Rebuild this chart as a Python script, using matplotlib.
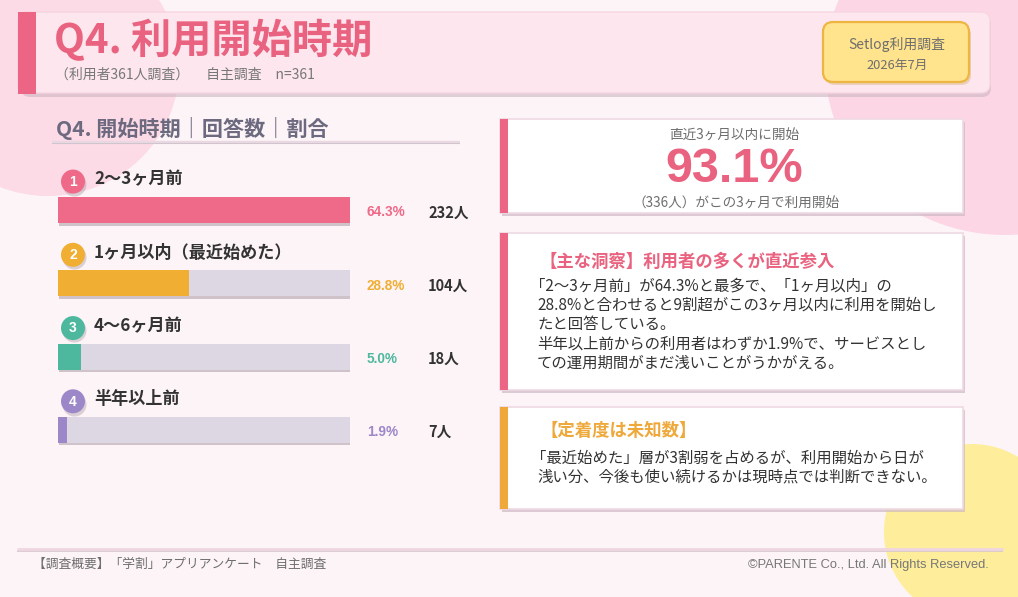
import numpy as np
import matplotlib
matplotlib.use('Agg')
import matplotlib.pyplot as plt
from matplotlib.patches import FancyBboxPatch, Rectangle, Circle, Ellipse
from matplotlib.transforms import blended_transform_factory
import matplotlib.patheffects as pe

JP = ['Noto Sans CJK JP', 'DejaVu Sans']
LAT = ['Liberation Sans', 'DejaVu Sans']
plt.rcParams['font.family'] = JP

# ---------------- data ----------------
categories = ['2～3ヶ月前', '1ヶ月以内（最近始めた）', '4～6ヶ月前', '半年以上前']
counts = [232, 104, 18, 7]
percents = [64.3, 28.8, 5.0, 1.9]
bar_colors = ['#EE6A88', '#F0AE33', '#4DB89E', '#9C87C8']
track_color = '#DCD7E2'

title = 'Q4. 利用開始時期'
subtitle = '（利用者361人調査）　 自主調査　n=361'
badge_lines = ['Setlog利用調査', '2026年7月']
section_title = 'Q4. 開始時期｜回答数｜割合'
stat_label = '直近3ヶ月以内に開始'
stat_value = '93.1%'
stat_note = '（336人）がこの3ヶ月で利用開始'
insight1_title = '【主な洞察】利用者の多くが直近参入'
insight1_lines = ['「2～3ヶ月前」が64.3%と最多で、「1ヶ月以内」の',
                  '28.8%と合わせると9割超がこの3ヶ月以内に利用を開始し',
                  'たと回答している。',
                  '半年以上前からの利用者はわずか1.9%で、サービスとし',
                  'ての運用期間がまだ浅いことがうかがえる。']
insight2_title = '【定着度は未知数】'
insight2_lines = ['「最近始めた」層が3割弱を占めるが、利用開始から日が',
                  '浅い分、今後も使い続けるかは現時点では判断できない。']
footer_left = '【調査概要】「学割」アプリアンケート　自主調査'
footer_right = '©PARENTE Co., Ltd. All Rights Reserved.'

PINK = '#EC6584'
ORANGE = '#EFA83A'
GREY = '#6E6E6E'
DARK = '#333333'

# ---------------- figure ----------------
fig = plt.figure(figsize=(10.18, 5.97), dpi=100)
fig.patch.set_facecolor('#FDF4F7')
ov = fig.add_axes([0, 0, 1, 1])
ov.set_xlim(0, 1018)
ov.set_ylim(597, 0)
ov.axis('off')
ov.set_zorder(0)

# background blobs
ov.add_patch(Ellipse((48, 68), 262, 256, fc='#FCDAE6', ec='none', zorder=0))
ov.add_patch(Ellipse((1005, 65), 360, 340, fc='#FCD6E5', ec='none', zorder=0))
ov.add_patch(Circle((972, 532), 88, fc='#FEEE9C', ec='none', zorder=0))

# title box
ov.add_patch(FancyBboxPatch((21, 16), 970, 81, boxstyle='round,pad=0,rounding_size=9',
                            fc='#CDB6C1', ec='none', alpha=0.6, zorder=1))
ov.add_patch(FancyBboxPatch((18, 12), 972, 81, boxstyle='round,pad=0,rounding_size=9',
                            fc='#FDE6EE', ec='#F6D5E1', lw=1, zorder=2))
ov.add_patch(Rectangle((18, 12), 18, 82, fc=PINK, ec='none', zorder=3))
ov.text(54, 41, title, fontsize=29, fontweight='bold', color='#E9627F',
        va='center', ha='left', zorder=4)
ov.text(55, 75, subtitle, fontsize=10, color='#777777', va='center', ha='left', zorder=4)

# badge
ov.add_patch(FancyBboxPatch((825, 25), 146, 60, boxstyle='round,pad=0,rounding_size=10',
                            fc='#D9B98A', ec='none', alpha=0.5, zorder=4))
ov.add_patch(FancyBboxPatch((823, 22), 146, 60, boxstyle='round,pad=0,rounding_size=10',
                            fc='#FFE38D', ec='#EFB542', lw=1.6, zorder=5))
ov.text(897, 44, badge_lines[0], fontsize=10, color=GREY, ha='center', va='center', zorder=6)
ov.text(897, 65, badge_lines[1], fontsize=9.3, color=GREY, ha='center', va='center', zorder=6)

# section heading
ov.text(56, 128, section_title, fontsize=15.2, fontweight='bold', color='#6D6A80',
        ha='left', va='center', zorder=4)
ov.plot([52, 460], [143, 143], color='#CFC3CB', lw=1.5, zorder=3, solid_capstyle='butt')
ov.plot([52, 460], [141.5, 141.5], color='#E9D8E1', lw=1.6, zorder=4, solid_capstyle='butt')

# ---------------- bar chart ----------------
n = len(categories)
row_h = 73.25
top_px = 173.5
ax = fig.add_axes([58 / 1018, 1 - (top_px + n * row_h) / 597, 292 / 1018, n * row_h / 597])
ax.set_zorder(2)
ax.patch.set_alpha(0)
ax.set_xlim(0, max(percents))
ax.set_ylim(n - 0.5, -0.5)
ax.axis('off')
y = np.arange(n)
shadow = [pe.SimplePatchShadow(offset=(0.8, -1.8), shadow_rgbFace='#7A6A75', alpha=0.35), pe.Normal()]
tracks = ax.barh(y, [max(percents)] * n, height=0.355, color=track_color, zorder=1)
for t in tracks:
    t.set_path_effects(shadow)
bars = ax.barh(y, percents, height=0.355, color=bar_colors, zorder=2)

trans = blended_transform_factory(ov.transData, ax.transData)
ax.scatter([74] * n, y - 0.39 + 0.03, s=(24 * 0.72) ** 2, c='#9A8A95', alpha=0.35,
           transform=trans, clip_on=False, zorder=3, linewidths=0)
ax.scatter([73] * n, y - 0.39, s=(24 * 0.72) ** 2, c=bar_colors,
           transform=trans, clip_on=False, zorder=4, linewidths=0)
for i in range(n):
    ax.text(73, y[i] - 0.385, str(i + 1), color='white', fontsize=10, fontweight='bold',
            ha='center', va='center', transform=trans, zorder=5, family=LAT)
    ax.text(94, y[i] - 0.42, categories[i], color=DARK, fontsize=12.3, fontweight='bold',
            ha='left', va='center', transform=trans, zorder=5)
    ax.text(367, y[i] + 0.03, f'{percents[i]:.1f}%', color=bar_colors[i], fontsize=9.8,
            fontweight='bold', ha='left', va='center', transform=trans, family=LAT, zorder=5)
    ax.text(428, y[i] + 0.03, f'{counts[i]}人', color=DARK, fontsize=10.5,
            fontweight='bold', ha='left', va='center', transform=trans, zorder=5)

# ---------------- cards ----------------
def card(x, yy, w, h, stripe):
    ov.add_patch(Rectangle((x + 2, yy + 3), w, h, fc='#CDB9C4', ec='none', alpha=0.7, zorder=5))
    ov.add_patch(Rectangle((x, yy), w, h, fc='white', ec='#EFD9E3', lw=1.2, zorder=6))
    ov.add_patch(Rectangle((x, yy), 8, h, fc=stripe, ec='none', zorder=7))

card(500, 119, 463, 94, PINK)
ov.text(734, 136, stat_label, fontsize=9.8, color=GREY, ha='center', va='center', zorder=8)
ov.text(734, 170, stat_value, fontsize=35, fontweight='bold', color='#E9627F',
        ha='center', va='center', family=LAT, zorder=8)
ov.text(736, 204, stat_note, fontsize=9.8, color=GREY, ha='center', va='center', zorder=8)

card(500, 233, 463, 157, PINK)
ov.text(540, 262, insight1_title, fontsize=12.5, fontweight='bold', color='#E9627F',
        ha='left', va='center', zorder=8)
for k, line in enumerate(insight1_lines):
    ov.text(537 if k else 530, 286 + k * 19.4, line, fontsize=11.1, color=DARK,
            ha='left', va='center', zorder=8)

card(500, 407, 463, 102, ORANGE)
ov.text(541, 431, insight2_title, fontsize=12.5, fontweight='bold', color=ORANGE,
        ha='left', va='center', zorder=8)
for k, line in enumerate(insight2_lines):
    ov.text(531 if k == 0 else 537, 458 + k * 19.4, line, fontsize=11.1, color=DARK,
            ha='left', va='center', zorder=8)

# ---------------- footer ----------------
ov.plot([17, 1003], [550.5, 550.5], color='#D6C6CE', lw=1.2, zorder=3, solid_capstyle='butt')
ov.plot([17, 1003], [549, 549], color='#EFD6E0', lw=2, zorder=4, solid_capstyle='butt')
ov.text(33, 564, footer_left, fontsize=9.2, color=GREY, ha='left', va='center', zorder=4)
ov.text(989, 565, footer_right, fontsize=9.3, color='#777777', ha='right', va='center',
        family=LAT, zorder=4)

fig.savefig('out.png', dpi=100, facecolor=fig.get_facecolor())
